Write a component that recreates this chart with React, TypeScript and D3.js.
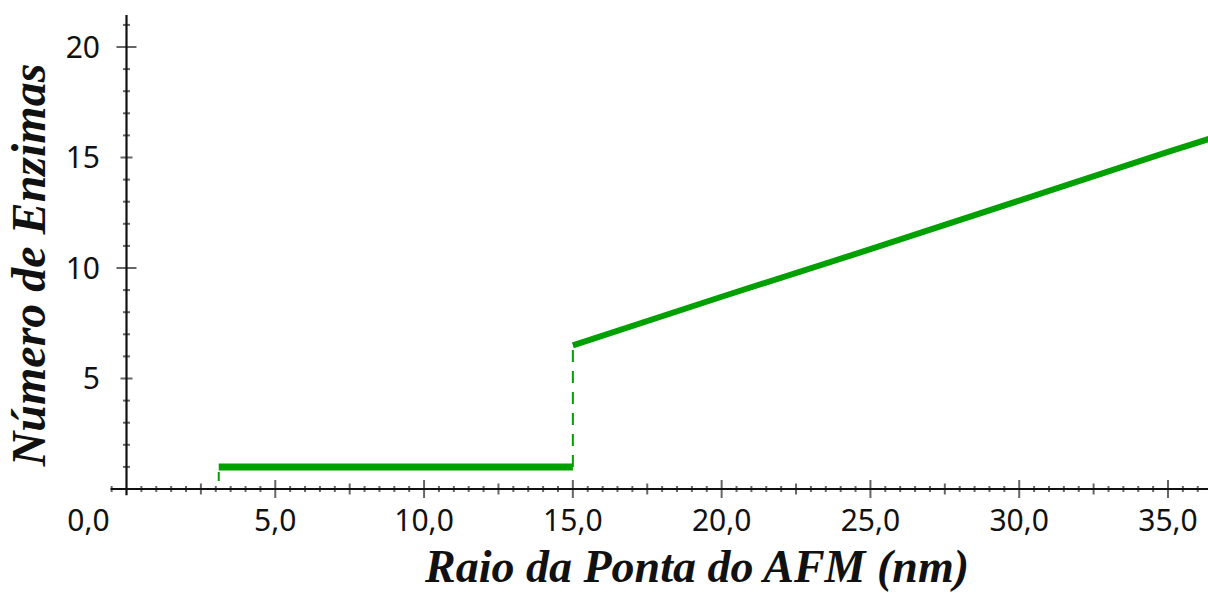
import React, { useRef, useEffect } from 'react';
import * as d3 from 'd3';

// tick values and labels
const xTickValues = [0, 5, 10, 15, 20, 25, 30, 35];
const xTickLabels = ['0,0', '5,0', '10,0', '15,0', '20,0', '25,0', '30,0', '35,0'];
const yTickValues = [5, 10, 15, 20];
const yTickLabels = ['5', '10', '15', '20'];

// series: flat part (small tip radius) and rising part
const lowRadius = [3.1, 15.0];
const lowCount = [1, 1];
const highRadius = [15.0, 20.0, 25.0, 30.0, 35.0, 36.4];
const highCount = [6.5, 8.7, 10.85, 13.05, 15.25, 15.85];

const W = 1208;
const H = 593;

const App = () => {
  const ref = useRef<SVGSVGElement | null>(null);

  useEffect(() => {
    if (!ref.current) return;
    const svg = d3.select(ref.current);
    svg.selectAll('*').remove();

    const x = d3.scaleLinear().domain([0, 35]).range([126.5, 1168]);
    const y = d3.scaleLinear().domain([0, 20]).range([489, 47]);
    const green = '#00a000';
    const tickColor = '#666';

    // minor / mid / major ticks on x
    const xTicks = d3.range(-1, 74).map(i => i * 0.5);
    xTicks.forEach(v => {
      if (v === 0) return;
      const major = Math.abs(v % 5) < 1e-9;
      const mid = !major && Math.abs(v % 2.5) < 1e-9;
      const len = major ? 9 : mid ? 5.5 : 3;
      svg.append('line')
        .attr('x1', x(v)).attr('x2', x(v))
        .attr('y1', y(0) - len).attr('y2', y(0) + len)
        .attr('stroke', tickColor).attr('stroke-width', 2);
    });

    // ticks on y
    d3.range(1, 22).forEach(v => {
      const major = v % 10 === 0;
      const mid = !major && v % 5 === 0;
      const len = major ? 10 : mid ? 6 : 3.5;
      svg.append('line')
        .attr('x1', x(0) - len).attr('x2', x(0) + len)
        .attr('y1', y(v)).attr('y2', y(v))
        .attr('stroke', tickColor).attr('stroke-width', 2);
    });

    // axis lines
    svg.append('line')
      .attr('x1', x(-0.5) - 1).attr('x2', W)
      .attr('y1', y(0)).attr('y2', y(0))
      .attr('stroke', '#111').attr('stroke-width', 2.2);
    svg.append('line')
      .attr('x1', x(0)).attr('x2', x(0))
      .attr('y1', y(-0.28)).attr('y2', y(21.45))
      .attr('stroke', '#111').attr('stroke-width', 2.2);

    // tick labels
    const font = "'Noto Sans', sans-serif";
    svg.append('g').selectAll('text')
      .data(xTickValues)
      .enter()
      .append('text')
      .attr('x', (d) => (d === 0 ? x(0) - 38 : x(d)))
      .attr('y', 531)
      .attr('text-anchor', 'middle')
      .attr('font-family', font)
      .attr('font-size', 30)
      .attr('fill', '#111')
      .text((d, i) => xTickLabels[i]);

    svg.append('g').selectAll('text')
      .data(yTickValues)
      .enter()
      .append('text')
      .attr('x', 100)
      .attr('y', d => y(d))
      .attr('dy', '0.36em')
      .attr('text-anchor', 'end')
      .attr('font-family', font)
      .attr('font-size', 30)
      .attr('fill', '#111')
      .text((d, i) => yTickLabels[i]);

    // dashed connectors
    svg.append('line')
      .attr('x1', x(lowRadius[0])).attr('x2', x(lowRadius[0]))
      .attr('y1', y(lowCount[0]) + 5).attr('y2', y(0) - 8)
      .attr('stroke', green).attr('stroke-width', 2);
    svg.append('line')
      .attr('x1', x(15)).attr('x2', x(15))
      .attr('y1', y(lowCount[1])).attr('y2', y(highCount[0]))
      .attr('stroke', green).attr('stroke-width', 2)
      .attr('stroke-dasharray', '12,9');

    const seg = d3.line<[number, number]>().x(d => x(d[0])).y(d => y(d[1]));
    svg.append('path')
      .attr('d', seg(lowRadius.map((r, i) => [r, lowCount[i]] as [number, number])))
      .attr('fill', 'none')
      .attr('stroke', green)
      .attr('stroke-width', 7);
    svg.append('path')
      .attr('d', seg(highRadius.map((r, i) => [r, highCount[i]] as [number, number])))
      .attr('fill', 'none')
      .attr('stroke', green)
      .attr('stroke-width', 6);

    // axis titles
    const serif = "'Liberation Serif', 'Times New Roman', serif";
    svg.append('text')
      .attr('transform', `translate(45,265) rotate(-90)`)
      .attr('text-anchor', 'middle')
      .attr('font-family', serif)
      .attr('font-style', 'italic')
      .attr('font-weight', 'bold')
      .attr('font-size', 48)
      .attr('fill', '#111')
      .text('Número de Enzimas');
    svg.append('text')
      .attr('x', 697)
      .attr('y', 582)
      .attr('text-anchor', 'middle')
      .attr('font-family', serif)
      .attr('font-style', 'italic')
      .attr('font-weight', 'bold')
      .attr('font-size', 46)
      .attr('fill', '#111')
      .text('Raio da Ponta do AFM (nm)');
  }, []);

  return (
    <svg
      ref={ref}
      width={W}
      height={H}
      style={{ position: 'absolute', left: 0, top: 0, background: '#fff' }}
    />
  );
};

export default App;
